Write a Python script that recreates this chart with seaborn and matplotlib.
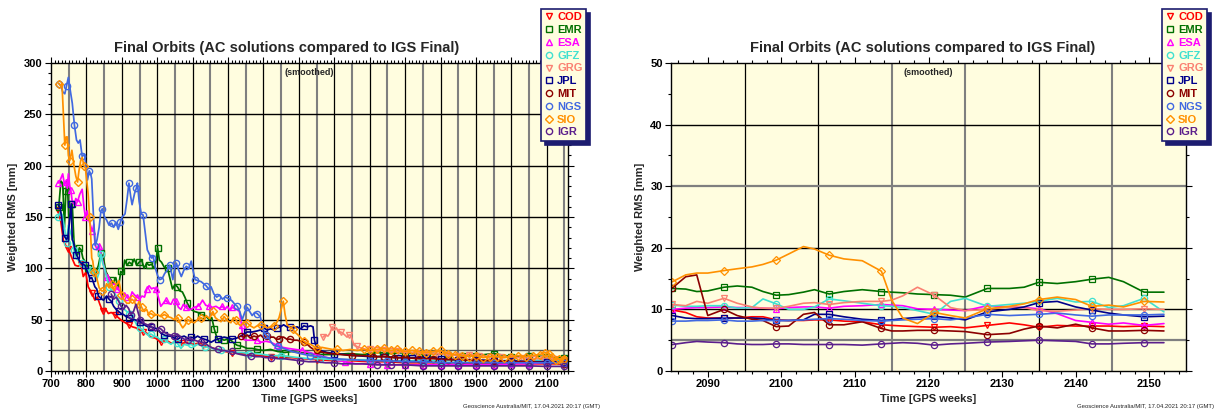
import matplotlib
matplotlib.use("Agg")
import matplotlib.pyplot as plt
from matplotlib.lines import Line2D
from matplotlib.ticker import MultipleLocator
import numpy as np
import pandas as pd
import seaborn as sns

# --- analysis centres: colour and marker --------------------------------------
AC_NAMES = ["COD", "EMR", "ESA", "GFZ", "GRG", "JPL", "MIT", "NGS", "SIO", "IGR"]
AC_COLORS = ["#FF0000", "#007000", "#FF00FF", "#40E0D0", "#FA8072",
             "#00008B", "#8B0000", "#4169E1", "#FF9000", "#5B1F8C"]
AC_MARKERS = ["v", "s", "^", "o", "v", "s", "o", "o", "D", "o"]

# --- left panel: full history (GPS week, weighted RMS mm) ---------------------
COD_ALL = [(720, 157), (728, 145), (735, 127), (742, 122), (749, 119), (758, 111),
           (768, 103), (777, 102), (785, 104), (791, 92), (798, 96), (805, 82),
           (815, 76), (824, 69), (831, 72), (838, 65), (846, 58), (853, 61),
           (862, 56), (870, 57), (880, 55), (890, 52), (900, 49), (910, 47),
           (920, 45), (930, 43), (940, 42), (950, 40), (960, 38), (970, 37),
           (982, 33), (995, 32), (1010, 28), (1025, 30), (1040, 27), (1055, 29),
           (1070, 27), (1085, 28), (1100, 26), (1115, 27), (1130, 25), (1150, 23),
           (1170, 21), (1190, 19), (1210, 18), (1235, 17), (1260, 16), (1290, 15),
           (1320, 14), (1350, 13), (1380, 13), (1410, 12), (1450, 11), (1500, 10),
           (1550, 10), (1600, 9), (1650, 9), (1700, 8), (1750, 8), (1800, 8),
           (1850, 8), (1900, 7), (1950, 7), (2000, 7), (2050, 7), (2100, 7), (2150, 7)]

EMR_ALL = [(722, 160), (728, 185), (733, 183), (738, 140), (742, 175), (746, 186),
           (750, 150), (755, 152), (760, 163), (765, 125), (770, 118), (775, 113),
           (780, 120), (785, 118), (790, 110), (797, 106), (805, 100), (815, 96),
           (824, 93), (834, 103), (841, 115), (848, 110), (855, 97), (862, 92),
           (869, 89), (876, 86), (883, 91), (890, 80), (897, 97), (903, 95),
           (908, 108), (915, 103), (921, 106), (928, 104), (935, 109), (942, 103),
           (949, 106), (956, 108), (963, 100), (970, 105), (977, 103), (984, 104),
           (991, 100), (996, 106), (1001, 120), (1006, 108), (1012, 106), (1020, 101),
           (1029, 100), (1036, 90), (1043, 80), (1050, 84), (1057, 82), (1064, 78),
           (1071, 77), (1078, 72), (1085, 66), (1095, 60), (1105, 58), (1115, 57),
           (1124, 55), (1135, 54), (1147, 50), (1154, 52), (1161, 41), (1168, 33),
           (1175, 28), (1182, 31), (1189, 30), (1198, 31), (1208, 30), (1217, 27),
           (1226, 25), (1240, 24), (1254, 22), (1268, 22), (1282, 21), (1300, 20),
           (1320, 21), (1340, 19), (1360, 18), (1380, 19), (1400, 18), (1430, 17),
           (1460, 16), (1500, 16), (1540, 17), (1580, 16), (1620, 18), (1660, 17),
           (1700, 18), (1740, 16), (1780, 17), (1820, 16), (1860, 15), (1900, 15),
           (1950, 17), (2000, 14), (2050, 15), (2100, 14), (2150, 13)]

ESA_ALL = [(720, 183), (726, 186), (733, 192), (738, 182), (742, 184), (746, 178),
           (749, 192), (753, 180), (756, 176), (760, 165), (766, 162), (770, 168),
           (775, 165), (781, 172), (788, 177), (793, 160), (797, 150), (802, 156),
           (808, 146), (813, 140), (817, 136), (821, 143), (824, 124), (830, 118),
           (836, 122), (843, 111), (848, 104), (852, 98), (858, 92), (866, 88),
           (873, 84), (880, 85), (887, 80), (894, 78), (901, 70), (908, 76),
           (915, 72), (922, 69), (929, 77), (936, 74), (943, 72), (950, 70),
           (957, 73), (964, 72), (971, 80), (977, 83), (984, 80), (990, 81),
           (996, 80), (1003, 72), (1010, 63), (1017, 66), (1024, 69), (1031, 66),
           (1039, 65), (1046, 70), (1053, 68), (1060, 62), (1067, 60), (1074, 65),
           (1081, 62), (1088, 60), (1095, 60), (1104, 62), (1114, 63), (1121, 65),
           (1128, 69), (1137, 64), (1147, 63), (1156, 62), (1166, 63), (1175, 61),
           (1184, 63), (1191, 60), (1198, 63), (1205, 59), (1212, 62), (1218, 61),
           (1224, 60), (1232, 58), (1238, 45), (1242, 31), (1250, 30), (1264, 30),
           (1282, 30), (1295, 28), (1306, 29), (1320, 28), (1339, 25), (1355, 23),
           (1370, 22), (1390, 21), (1410, 20), (1440, 17), (1470, 14), (1500, 11),
           (1530, 9), (1560, 7), (1600, 7), (1650, 6), (1700, 6), (1750, 6),
           (1800, 6), (1850, 6), (1900, 6), (1950, 6), (2000, 7), (2050, 7),
           (2100, 8), (2150, 8)]

GFZ_ALL = [(720, 150), (726, 155), (732, 152), (738, 140), (744, 125), (749, 142),
           (755, 135), (760, 130), (765, 118), (770, 110), (777, 108), (783, 106),
           (788, 105), (795, 102), (802, 100), (808, 96), (815, 98), (822, 92),
           (828, 88), (835, 95), (841, 114), (846, 105), (851, 100), (858, 90),
           (865, 82), (872, 78), (879, 76), (886, 72), (893, 68), (900, 62),
           (907, 60), (914, 58), (921, 56), (928, 58), (935, 50), (942, 45),
           (950, 42), (958, 40), (966, 37), (974, 35), (982, 36), (991, 34),
           (1000, 33), (1010, 30), (1020, 31), (1030, 28), (1039, 26), (1048, 29),
           (1057, 27), (1067, 22), (1076, 26), (1086, 25), (1095, 26), (1105, 24),
           (1114, 26), (1124, 25), (1135, 23), (1145, 24), (1155, 22), (1165, 21),
           (1180, 20), (1200, 19), (1220, 18), (1240, 18), (1260, 17), (1280, 17),
           (1300, 16), (1325, 15), (1350, 15), (1375, 14), (1400, 13), (1430, 12),
           (1460, 12), (1500, 11), (1550, 11), (1600, 11), (1650, 10), (1700, 10),
           (1750, 10), (1800, 10), (1850, 10), (1900, 10), (1950, 10), (2000, 10),
           (2050, 10), (2100, 11), (2150, 10)]

GRG_ALL = [(1468, 33), (1475, 35), (1482, 34), (1488, 37), (1494, 43), (1500, 40),
           (1506, 42), (1513, 37), (1518, 38), (1523, 37), (1530, 35), (1536, 33),
           (1541, 35), (1546, 35), (1551, 30), (1556, 25), (1563, 24), (1570, 23),
           (1580, 22), (1590, 21), (1600, 21), (1620, 20), (1640, 20), (1660, 19),
           (1680, 19), (1700, 18), (1730, 18), (1760, 17), (1790, 17), (1820, 16),
           (1850, 15), (1880, 16), (1910, 15), (1940, 14), (1970, 14), (2000, 13),
           (2030, 13), (2060, 12), (2090, 12), (2120, 12), (2150, 11)]

JPL_ALL = [(720, 162), (725, 160), (730, 150), (735, 133), (740, 130), (744, 128),
           (748, 131), (752, 145), (757, 163), (760, 128), (763, 126), (768, 118),
           (772, 113), (777, 110), (782, 106), (789, 104), (796, 103), (800, 99),
           (805, 95), (810, 90), (815, 91), (820, 86), (824, 82), (829, 80),
           (834, 73), (840, 71), (848, 69), (857, 73), (864, 70), (870, 68),
           (877, 63), (884, 60), (891, 58), (898, 56), (905, 55), (912, 53),
           (920, 52), (928, 50), (936, 50), (944, 49), (952, 48), (960, 46),
           (968, 44), (975, 43), (982, 43), (991, 42), (1001, 41), (1010, 37),
           (1020, 35), (1030, 34), (1039, 34), (1048, 32), (1058, 31), (1067, 33),
           (1076, 34), (1086, 32), (1095, 33), (1105, 32), (1114, 34), (1124, 32),
           (1133, 31), (1142, 30), (1152, 28), (1162, 30), (1171, 31), (1180, 32),
           (1189, 33), (1200, 32), (1212, 31), (1224, 32), (1236, 34), (1245, 36),
           (1254, 38), (1268, 38), (1282, 39), (1292, 40), (1301, 42), (1310, 40),
           (1320, 41), (1330, 40), (1339, 42), (1348, 43), (1357, 45), (1366, 43),
           (1376, 43), (1385, 42), (1395, 43), (1405, 41), (1414, 44), (1424, 43),
           (1433, 44), (1440, 43), (1444, 30), (1450, 22), (1460, 20), (1480, 18),
           (1500, 17), (1530, 16), (1560, 15), (1600, 14), (1640, 14), (1680, 13),
           (1720, 13), (1760, 13), (1800, 12), (1850, 11), (1900, 11), (1950, 10),
           (2000, 10), (2050, 9), (2100, 9), (2150, 9)]

MIT_ALL = [(1236, 34), (1245, 33), (1254, 35), (1263, 32), (1273, 34), (1282, 33),
           (1292, 35), (1301, 32), (1311, 34), (1320, 33), (1329, 33), (1336, 31),
           (1344, 31), (1350, 33), (1357, 33), (1366, 31), (1376, 31), (1385, 30),
           (1395, 30), (1405, 29), (1414, 28), (1424, 26), (1433, 23), (1442, 21),
           (1452, 20), (1470, 18), (1490, 17), (1520, 16), (1550, 15), (1580, 15),
           (1610, 14), (1640, 14), (1670, 13), (1700, 13), (1740, 12), (1780, 12),
           (1820, 11), (1860, 11), (1900, 10), (1950, 10), (2000, 9), (2050, 9),
           (2100, 8), (2150, 7)]

NGS_ALL = [(722, 280), (728, 278), (733, 272), (739, 270), (744, 278), (749, 286),
           (755, 272), (760, 261), (766, 240), (772, 225), (777, 222), (782, 225),
           (788, 209), (795, 211), (800, 195), (803, 186), (808, 195), (812, 192),
           (815, 187), (820, 150), (825, 122), (830, 128), (836, 140), (841, 156),
           (845, 158), (851, 150), (857, 147), (864, 142), (871, 144), (877, 140),
           (883, 145), (890, 138), (896, 145), (901, 150), (909, 153), (915, 168),
           (920, 183), (925, 170), (929, 162), (936, 173), (941, 178), (944, 183),
           (949, 165), (955, 153), (960, 152), (966, 135), (972, 118), (979, 113),
           (984, 110), (988, 112), (995, 100), (1001, 93), (1007, 89), (1014, 90),
           (1021, 95), (1028, 98), (1035, 103), (1040, 96), (1044, 89), (1049, 100),
           (1054, 105), (1061, 98), (1068, 92), (1075, 98), (1082, 102), (1089, 100),
           (1096, 107), (1101, 98), (1107, 89), (1115, 88), (1124, 87), (1131, 85),
           (1138, 83), (1145, 80), (1152, 82), (1160, 75), (1168, 72), (1176, 74),
           (1184, 70), (1192, 72), (1198, 71), (1205, 70), (1212, 68), (1219, 65),
           (1226, 63), (1233, 58), (1240, 50), (1247, 57), (1254, 62), (1261, 58),
           (1268, 54), (1275, 57), (1282, 56), (1291, 53), (1296, 45), (1301, 38),
           (1308, 35), (1315, 32), (1322, 28), (1329, 25), (1340, 24), (1357, 22),
           (1380, 19), (1404, 17), (1430, 15), (1460, 14), (1500, 12), (1550, 11),
           (1600, 10), (1650, 10), (1700, 9), (1750, 9), (1800, 8), (1850, 8),
           (1900, 8), (1950, 8), (2000, 8), (2050, 8), (2100, 8), (2150, 8)]

SIO_ALL = [(722, 280), (727, 278), (731, 280), (735, 250), (739, 220), (743, 228),
           (746, 228), (749, 210), (753, 205), (759, 215), (765, 200), (770, 190),
           (775, 184), (779, 195), (784, 205), (788, 208), (793, 200), (797, 198),
           (801, 185), (805, 172), (809, 150), (812, 133), (815, 110), (818, 107),
           (822, 96), (826, 94), (831, 88), (836, 81), (843, 78), (850, 78),
           (857, 85), (864, 81), (871, 85), (878, 78), (885, 84), (892, 88),
           (899, 74), (907, 69), (914, 66), (921, 66), (928, 70), (935, 68),
           (942, 62), (949, 68), (956, 62), (963, 58), (970, 60), (976, 55),
           (982, 56), (991, 54), (1001, 55), (1010, 53), (1020, 55), (1030, 53),
           (1039, 52), (1048, 50), (1058, 52), (1065, 46), (1072, 42), (1079, 45),
           (1086, 50), (1095, 48), (1105, 47), (1114, 50), (1124, 52), (1131, 49),
           (1138, 54), (1148, 51), (1157, 58), (1164, 52), (1171, 50), (1180, 48),
           (1189, 53), (1198, 49), (1208, 47), (1215, 52), (1222, 50), (1229, 46),
           (1236, 44), (1245, 48), (1254, 47), (1263, 44), (1273, 42), (1282, 44),
           (1292, 45), (1301, 44), (1311, 42), (1320, 43), (1329, 44), (1337, 47),
           (1344, 52), (1350, 60), (1356, 68), (1361, 55), (1367, 45), (1374, 43),
           (1382, 41), (1388, 38), (1395, 36), (1404, 33), (1414, 29), (1424, 27),
           (1433, 26), (1442, 24), (1452, 22), (1465, 23), (1480, 22), (1495, 21),
           (1508, 21), (1525, 20), (1545, 21), (1565, 20), (1583, 21), (1600, 20),
           (1620, 21), (1640, 22), (1660, 20), (1677, 21), (1700, 19), (1720, 20),
           (1740, 19), (1760, 18), (1780, 19), (1800, 20), (1820, 17), (1840, 16),
           (1860, 15), (1880, 14), (1900, 15), (1920, 13), (1940, 14), (1960, 14),
           (1980, 13), (2000, 14), (2020, 15), (2040, 14), (2060, 15), (2080, 16),
           (2095, 18), (2105, 17), (2115, 14), (2125, 11), (2135, 12), (2145, 11),
           (2150, 12)]

IGR_ALL = [(870, 75), (877, 70), (884, 72), (891, 68), (898, 63), (905, 60),
           (912, 64), (919, 61), (926, 55), (933, 58), (940, 65), (946, 57),
           (952, 50), (958, 48), (965, 46), (972, 45), (982, 44), (990, 40),
           (996, 39), (1003, 42), (1010, 41), (1019, 38), (1029, 36), (1038, 35),
           (1048, 34), (1057, 36), (1067, 33), (1076, 31), (1086, 30), (1095, 31),
           (1105, 30), (1114, 29), (1124, 28), (1135, 27), (1147, 24), (1159, 22),
           (1171, 21), (1180, 20), (1189, 20), (1200, 19), (1212, 19), (1224, 17),
           (1236, 16), (1250, 15), (1264, 15), (1278, 14), (1292, 14), (1306, 13),
           (1320, 13), (1340, 12), (1357, 12), (1380, 11), (1404, 10), (1428, 9),
           (1452, 9), (1475, 8), (1499, 8), (1520, 7), (1545, 7), (1580, 7),
           (1620, 6), (1660, 6), (1700, 6), (1750, 5), (1800, 5), (1850, 5),
           (1900, 5), (1950, 5), (2000, 5), (2050, 5), (2100, 4.5), (2150, 4.5)]

LEFT_SERIES = [COD_ALL, EMR_ALL, ESA_ALL, GFZ_ALL, GRG_ALL,
               JPL_ALL, MIT_ALL, NGS_ALL, SIO_ALL, IGR_ALL]

# --- right panel: last weeks (common week grid) --------------------------------
RECENT_WEEKS = [2085.2, 2087, 2088.5, 2090, 2092.2, 2094, 2096, 2097.5, 2099.3, 2101,
                2103, 2104.5, 2106.5, 2108.5, 2111, 2113.6, 2115, 2116.5, 2118.5, 2120.8,
                2123, 2125, 2128, 2131, 2133, 2135, 2137.5, 2140, 2142.2, 2144.5,
                2146.5, 2149.3, 2152]
RECENT_MARKED = [2085.2, 2092.2, 2099.3, 2106.5, 2113.6, 2120.8, 2128, 2135, 2142.2, 2149.3]

COD_RECENT = [9.9, 9.5, 8.8, 8.6, 8.6, 8.6, 8.8, 8.8, 8.3, 8.2, 8.2, 8.3, 8.3, 8.1, 8.0,
              7.5, 7.4, 7.3, 7.2, 7.1, 7.2, 7.0, 7.4, 7.8, 7.5, 7.1, 7.4, 7.3, 7.3, 7.3,
              7.2, 7.3, 7.2]
EMR_RECENT = [13.4, 13.3, 12.9, 13.0, 13.6, 13.8, 13.6, 12.9, 12.3, 12.4, 12.8, 13.2, 12.5,
              12.9, 13.2, 12.9, 12.8, 12.7, 12.5, 12.4, 12.3, 12.0, 13.4, 13.4, 13.6, 14.4,
              14.2, 14.5, 14.9, 15.2, 14.5, 12.8, 12.8]
ESA_RECENT = [10.0, 10.2, 10.3, 10.3, 10.4, 10.3, 10.3, 10.2, 10.1, 10.3, 10.4, 10.4, 10.2,
              10.5, 10.6, 10.8, 10.7, 10.6, 10.1, 10.0, 9.9, 9.8, 10.6, 10.4, 10.3, 10.1,
              9.3, 8.2, 7.9, 7.6, 7.8, 7.4, 7.7]
GFZ_RECENT = [10.7, 10.5, 10.5, 10.6, 10.6, 10.2, 10.3, 11.7, 10.9, 10.0, 10.0, 10.4, 11.7,
              11.4, 11.0, 10.6, 10.5, 10.3, 9.8, 9.2, 11.3, 11.8, 10.5, 10.8, 11.0, 11.3,
              11.8, 11.2, 11.3, 10.3, 10.6, 11.8, 9.6]
GRG_RECENT = [10.8, 10.6, 11.3, 11.0, 11.8, 11.0, 10.4, 10.2, 10.2, 10.5, 11.0, 11.1, 10.8,
              11.1, 11.3, 11.3, 11.5, 12.2, 13.6, 12.3, 10.3, 9.8, 10.0, 10.4, 10.3, 9.8,
              9.7, 9.9, 10.1, 10.0, 10.0, 10.1, 10.0]
JPL_RECENT = [9.0, 8.6, 8.5, 8.5, 8.6, 8.6, 8.6, 8.5, 8.2, 8.2, 8.3, 9.2, 9.2, 8.8, 8.4,
              8.2, 8.3, 8.5, 8.7, 8.9, 8.6, 8.3, 9.6, 10.0, 10.4, 11.1, 11.3, 10.4, 9.9,
              9.4, 9.1, 8.8, 8.9]
MIT_RECENT = [13.5, 15.3, 15.6, 9.0, 10.0, 9.0, 8.4, 8.2, 7.2, 7.3, 9.2, 9.5, 7.5, 7.5,
              8.0, 6.9, 6.5, 6.5, 6.6, 6.6, 6.5, 6.4, 5.9, 6.1, 6.8, 7.3, 7.0, 7.6, 7.0,
              6.5, 6.5, 6.6, 6.5]
NGS_RECENT = [8.1, 8.1, 8.2, 8.2, 8.3, 8.1, 8.1, 8.2, 8.2, 8.2, 8.3, 8.4, 8.5, 8.4, 8.2,
              8.1, 8.2, 8.3, 8.4, 8.5, 8.3, 8.6, 9.2, 9.0, 9.1, 9.2, 9.4, 9.1, 8.9, 9.1,
              9.1, 9.1, 9.2]
SIO_RECENT = [14.5, 15.6, 15.9, 15.9, 16.3, 16.6, 16.9, 17.3, 18.0, 19.0, 20.2, 19.8, 18.8,
              18.2, 17.9, 16.2, 11.5, 8.6, 7.7, 9.5, 9.0, 8.6, 10.1, 10.5, 10.9, 11.6,
              12.0, 11.6, 10.5, 10.7, 10.4, 11.3, 11.2]
IGR_RECENT = [4.3, 4.6, 4.8, 4.7, 4.6, 4.4, 4.3, 4.3, 4.4, 4.4, 4.3, 4.3, 4.3, 4.3, 4.2,
              4.4, 4.5, 4.6, 4.5, 4.2, 4.4, 4.5, 4.7, 4.8, 4.9, 5.0, 4.9, 4.8, 4.4, 4.4,
              4.5, 4.6, 4.6]

RIGHT_SERIES = [COD_RECENT, EMR_RECENT, ESA_RECENT, GFZ_RECENT, GRG_RECENT,
                JPL_RECENT, MIT_RECENT, NGS_RECENT, SIO_RECENT, IGR_RECENT]

TITLE = "Final Orbits (AC solutions compared to IGS Final)"
FOOTER = "Geoscience Australia/MIT, 17.04.2021 20:17 (GMT)"
BG = "#FFFDDF"
FONT = ["Liberation Sans", "DejaVu Sans"]

sns.set_theme(style="ticks")
plt.rcParams["font.family"] = FONT
plt.rcParams["font.weight"] = "bold"

W, H = 1216, 411
fig = plt.figure(figsize=(W / 100, H / 100), dpi=100)
fig.patch.set_facecolor("white")


def px_axes(x0, x1, y0, y1):
    return fig.add_axes([x0 / W, 1 - y1 / H, (x1 - x0) / W, (y1 - y0) / H])


def style_axes(ax):
    ax.set_facecolor(BG)
    for sp in ax.spines.values():
        sp.set_visible(True)
        sp.set_color("black")
        sp.set_linewidth(1.0)
    ax.tick_params(which="both", direction="out", top=True, right=True,
                   colors="black", labelsize=8, width=0.8)
    ax.tick_params(which="major", length=4, pad=2)
    ax.tick_params(which="minor", length=2.5)
    for lab in ax.get_xticklabels() + ax.get_yticklabels():
        lab.set_fontweight("bold")
    ax.set_xlabel("Time [GPS weeks]", fontsize=8, fontweight="bold", labelpad=3)
    ax.set_ylabel("Weighted RMS [mm]", fontsize=8, fontweight="bold", labelpad=4)
    ax.text(0.5, 0.985, "(smoothed)", transform=ax.transAxes, ha="center", va="top",
            fontsize=6.5, fontweight="bold")


def add_legend(right_px):
    handles = [Line2D([], [], ls="none", marker=m, mfc="none", mec=c, mew=1.0, ms=4.5)
               for m, c in zip(AC_MARKERS, AC_COLORS)]
    leg = fig.legend(handles, AC_NAMES, loc="upper right",
                     bbox_to_anchor=(right_px / W, 1 - 9 / H),
                     bbox_transform=fig.transFigure,
                     prop={"family": FONT, "weight": "bold", "size": 8},
                     labelcolor=AC_COLORS, frameon=True, fancybox=False,
                     borderpad=0.3, labelspacing=0.25, handlelength=0.8,
                     handletextpad=0.35, borderaxespad=0,
                     shadow={"ox": 3, "oy": -3, "color": "#1C1C70", "alpha": 1})
    fr = leg.get_frame()
    fr.set_facecolor(BG)
    fr.set_edgecolor("#1C1C70")
    fr.set_linewidth(1.2)
    fr.set_alpha(1)


# ---------------------------------------------------------------- left panel
ax1 = px_axes(51, 568, 63, 371)
for xv in range(750, 2160, 50):
    grey = xv % 100 == 50
    ax1.axvline(xv, color="#7F7F7F" if grey else "black",
                lw=1.5 if grey else 0.9, zorder=0.5)
for yv, grey in [(20, True), (50, False), (100, False), (150, False),
                 (200, False), (250, False)]:
    ax1.axhline(yv, color="#555555" if grey else "black", lw=1.0, zorder=0.5)

for name, color, marker, pts in zip(AC_NAMES, AC_COLORS, AC_MARKERS, LEFT_SERIES):
    wk = np.array([p[0] for p in pts], dtype=float)
    val = np.array([p[1] for p in pts], dtype=float)
    mark = [(i % 4 == 0) if w < 1600 else True for i, w in enumerate(wk)]
    sns.lineplot(x=wk, y=val, color=color, lw=1.25, sort=False, estimator=None,
                 marker=marker, markevery=mark, ms=4.5, mfc="none", mec=color,
                 mew=1.0, ax=ax1, zorder=2)

ax1.set_xlim(700, 2160)
ax1.set_ylim(0, 300)
ax1.xaxis.set_major_locator(MultipleLocator(100))
ax1.xaxis.set_minor_locator(MultipleLocator(10))
ax1.yaxis.set_major_locator(MultipleLocator(50))
ax1.yaxis.set_minor_locator(MultipleLocator(10))
style_axes(ax1)
fig.text(287 / W, 1 - 48 / H, TITLE, ha="center", va="center",
         fontsize=10.5, fontweight="bold")
fig.text(600 / W, 1 - 406 / H, FOOTER, ha="right", va="center", fontsize=4.3,
         fontweight="normal")
add_legend(586)

# --------------------------------------------------------------- right panel
ax2 = px_axes(671, 1186, 63, 371)
for xv, grey in [(2095, False), (2105, False), (2115, True), (2125, True),
                 (2135, False), (2145, True)]:
    ax2.axvline(xv, color="#7F7F7F" if grey else "black",
                lw=1.5 if grey else 0.9, zorder=0.5)
for yv, grey in [(5, True), (10, False), (20, False), (30, True), (40, False)]:
    ax2.axhline(yv, color="#7F7F7F" if grey else "black",
                lw=1.6 if grey else 1.0, zorder=0.5)

rw = np.array(RECENT_WEEKS)
rmark = [w in RECENT_MARKED for w in RECENT_WEEKS]
for name, color, marker, vals in zip(AC_NAMES, AC_COLORS, AC_MARKERS, RIGHT_SERIES):
    sns.lineplot(x=rw, y=np.array(vals), color=color, lw=1.2, sort=False,
                 estimator=None, marker=marker, markevery=rmark, ms=4.5,
                 mfc="none", mec=color, mew=0.9, ax=ax2, zorder=2)

ax2.set_xlim(2085, 2155)
ax2.set_ylim(0, 50)
ax2.xaxis.set_major_locator(MultipleLocator(10))
ax2.xaxis.set_minor_locator(MultipleLocator(2))
ax2.yaxis.set_major_locator(MultipleLocator(10))
ax2.yaxis.set_minor_locator(MultipleLocator(5))
style_axes(ax2)
fig.text(923 / W, 1 - 48 / H, TITLE, ha="center", va="center",
         fontsize=10.5, fontweight="bold")
fig.text(1214 / W, 1 - 406 / H, FOOTER, ha="right", va="center", fontsize=4.3,
         fontweight="normal")
add_legend(1207)

fig.savefig("out.png", dpi=100)
